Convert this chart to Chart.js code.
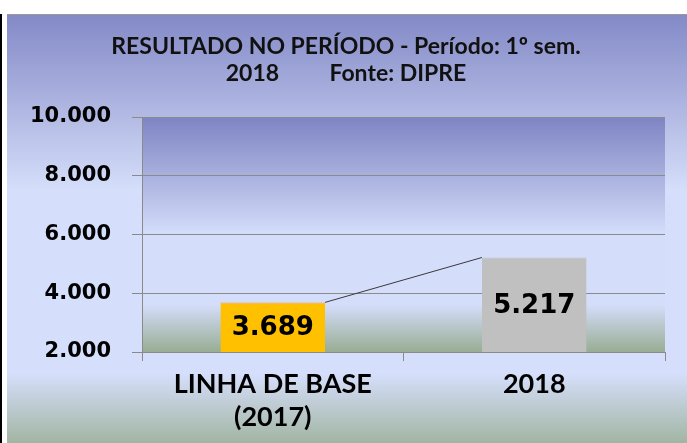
<!DOCTYPE html>
<html>
<head>
<meta charset="utf-8">
<script src="https://cdn.jsdelivr.net/npm/chart.js@4.4.0/dist/chart.umd.min.js"></script>
<style>
  html, body { margin: 0; padding: 0; background: #fff; }
  #wrap { width: 687px; height: 443px; }
</style>
</head>
<body>
<div id="wrap"><canvas id="grafico" width="687" height="443"></canvas></div>
<script>
// dados do gráfico
const categorias = [["LINHA DE BASE", "(2017)"], "2018"];
const valores = [3689, 5217];
const coresBarras = ["#FFC000", "#C0C0C0"];
const ticksY = [2000, 4000, 6000, 8000, 10000];
const titulo = ["RESULTADO NO PERÍODO - Período: 1º sem.", "2018         Fonte: DIPRE"];

const formatar = (v) => String(v).replace(/\B(?=(\d{3})+(?!\d))/g, ".");

// fundo do painel e da área de plotagem
const fundo = {
  id: "fundo",
  beforeDraw(chart) {
    const ctx = chart.ctx;
    const a = chart.chartArea;
    ctx.save();
    ctx.fillStyle = "#fff";
    ctx.fillRect(0, 0, chart.width, chart.height);

    const g = ctx.createLinearGradient(0, 14, 0, chart.height);
    g.addColorStop(0, "#8389C6");
    g.addColorStop(0.41, "#D5DEFA");
    g.addColorStop(0.84, "#D5DEFA");
    g.addColorStop(1, "#A2B5A3");
    ctx.fillStyle = g;
    ctx.fillRect(7, 14, chart.width - 7, chart.height - 14);
    ctx.strokeStyle = "#9a9a9a";
    ctx.lineWidth = 1;
    ctx.beginPath();
    ctx.moveTo(7, 14.5);
    ctx.lineTo(chart.width, 14.5);
    ctx.stroke();
    ctx.fillStyle = "#000";
    ctx.fillRect(0, 14, 2, chart.height - 14);

    const p = ctx.createLinearGradient(0, a.top, 0, a.bottom);
    p.addColorStop(0, "#7E84C2");
    p.addColorStop(0.5, "#D4DDFA");
    p.addColorStop(0.8, "#D4DDFA");
    p.addColorStop(1, "#98AD93");
    ctx.fillStyle = p;
    ctx.fillRect(a.left, a.top, a.right - a.left, a.bottom - a.top);
    ctx.restore();
  }
};

// linha de série + rótulos dentro das barras
const rotulos = {
  id: "rotulos",
  afterDatasetsDraw(chart) {
    const ctx = chart.ctx;
    const barras = chart.getDatasetMeta(0).data;
    ctx.save();
    ctx.strokeStyle = "#3a3a3a";
    ctx.lineWidth = 1;
    for (let i = 0; i < barras.length - 1; i++) {
      const b1 = barras[i], b2 = barras[i + 1];
      ctx.beginPath();
      ctx.moveTo(b1.x + b1.width / 2, b1.y);
      ctx.lineTo(b2.x - b2.width / 2, b2.y);
      ctx.stroke();
    }
    ctx.fillStyle = "#000";
    ctx.font = "bold 26px 'DejaVu Sans'";
    ctx.textAlign = "center";
    ctx.textBaseline = "middle";
    const base = chart.chartArea.bottom;
    barras.forEach((b, i) => {
      ctx.fillText(formatar(valores[i]), b.x, (b.y + base) / 2 + 1);
    });
    ctx.restore();
  }
};

new Chart(document.getElementById("grafico").getContext("2d"), {
  type: "bar",
  data: {
    labels: categorias,
    datasets: [{
      data: valores,
      backgroundColor: coresBarras,
      borderColor: ["#F0A030", "#C0C0C0"],
      borderWidth: { top: 1, left: 0, right: 0, bottom: 0 },
      borderSkipped: false,
      barPercentage: 0.4,
      categoryPercentage: 1.0
    }]
  },
  options: {
    responsive: false,
    animation: false,
    layout: { padding: { left: 27, right: 22, top: 0, bottom: 0 } },
    plugins: {
      legend: { display: false },
      tooltip: { enabled: false },
      title: {
        display: true,
        text: titulo,
        color: "#111",
        font: { family: "Lato", weight: "bold", size: 23, lineHeight: 1.174 },
        padding: { top: 33, bottom: 30 }
      }
    },
    scales: {
      x: {
        offset: true,
        grid: { offset: true, drawOnChartArea: false, drawTicks: true, tickLength: 9, color: "#8a8a8a" },
        border: { color: "#8a8a8a" },
        ticks: {
          color: "#000",
          padding: 7,
          font: { family: "Lato", weight: "bold", size: 27, lineHeight: 1.22 }
        },
        afterFit: (s) => { s.height = 91; }
      },
      y: {
        min: ticksY[0],
        max: ticksY[ticksY.length - 1],
        afterBuildTicks: (s) => { s.ticks = ticksY.map((v) => ({ value: v })); },
        grid: { color: "#8a8a8a", tickLength: 10 },
        border: { color: "#8a8a8a" },
        ticks: {
          color: "#000",
          padding: 21,
          font: { family: "DejaVu Sans", weight: "bold", size: 21 },
          callback: (v) => formatar(v)
        },
        afterFit: (s) => { s.width = 115; }
      }
    }
  },
  plugins: [fundo, rotulos]
});
</script>
</body>
</html>
